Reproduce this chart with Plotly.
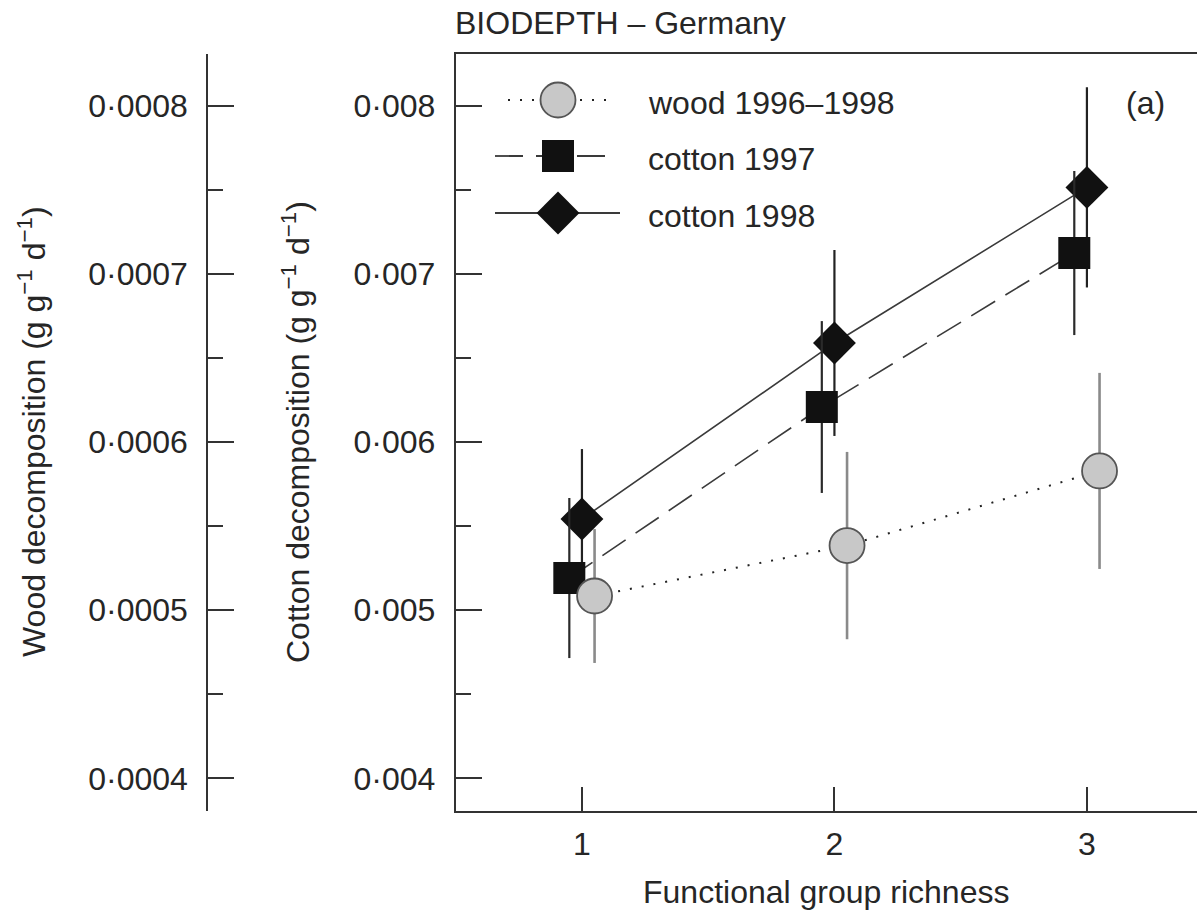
import plotly.graph_objects as go

# ---------------- data ----------------
richness = [1, 2, 3]
x_cotton97 = [0.95, 1.95, 2.95]
x_cotton98 = [1.0, 2.0, 3.0]
x_wood = [1.05, 2.05, 3.05]

cotton1998 = [0.005542, 0.006589, 0.007514]
cotton1998_err = [0.000416, 0.000553, 0.000595]

cotton1997 = [0.005191, 0.006208, 0.007124]
cotton1997_err = [0.000476, 0.000511, 0.000488]

wood = [0.0005084, 0.0005384, 0.0005828]
wood_err = [0.0000398, 0.0000557, 0.0000583]

cotton_ticks = [0.004, 0.005, 0.006, 0.007, 0.008]
cotton_ticktext = ["0·004", "0·005", "0·006", "0·007", "0·008"]
wood_ticks = [0.0004, 0.0005, 0.0006, 0.0007, 0.0008]
wood_ticktext = ["0·0004", "0·0005", "0·0006", "0·0007", "0·0008"]
x_ticks = [1, 2, 3]
x_ticktext = ["1", "2", "3"]

series_names = ["wood 1996–1998", "cotton 1997", "cotton 1998"]

# ---------------- layout geometry ----------------
W, H = 1197, 913
FONT = "Liberation Sans, Arial, Helvetica, sans-serif"
TXT = "#262626"
AX = "#333333"
FS = 32

def px(xp):
    return xp / W

def py(yp):
    return 1 - yp / H

x_dom = [px(455.7), 1.0]
y_dom = [py(811), py(54.3)]
cot_range = [0.0038055, 0.0083057]
wood_range = [v / 10 for v in cot_range]
x_range = [0.5, 3.436]

fig = go.Figure()

# cotton 1998 (solid, diamonds)
fig.add_trace(go.Scatter(
    x=x_cotton98, y=cotton1998, mode="lines+markers", name=series_names[2],
    line=dict(color="#3a3a3a", width=1.6),
    marker=dict(symbol="diamond", size=33, color="#111111", line=dict(width=0)),
    error_y=dict(type="data", array=cotton1998_err, visible=True, color="#222222",
                 thickness=2.2, width=0),
    xaxis="x", yaxis="y", showlegend=False, cliponaxis=False))

# cotton 1997 (dashed, squares)
fig.add_trace(go.Scatter(
    x=x_cotton97, y=cotton1997, mode="lines+markers", name=series_names[1],
    line=dict(color="#3a3a3a", width=1.6, dash="28px,12px"),
    marker=dict(symbol="square", size=32, color="#111111", line=dict(width=0)),
    error_y=dict(type="data", array=cotton1997_err, visible=True, color="#2a2a2a",
                 thickness=2.2, width=0),
    xaxis="x", yaxis="y", showlegend=False, cliponaxis=False))

# wood (dotted, grey circles) on the wood axis
fig.add_trace(go.Scatter(
    x=x_wood, y=wood, mode="lines+markers", name=series_names[0],
    line=dict(color="#222222", width=2, dash="2px,10px"),
    marker=dict(symbol="circle", size=35, color="#c8c8c8",
                line=dict(width=1.8, color="#555555")),
    error_y=dict(type="data", array=wood_err, visible=True, color="#8a8a8a",
                 thickness=2.6, width=0),
    xaxis="x", yaxis="y2", showlegend=False, cliponaxis=False))

# ---------------- hand-drawn legend on a hidden pixel-space axis ----------------
leg_rows = [100, 156, 213]
leg_line_x = [(508, 610), (495, 608), (495, 620)]
leg_marker_x = 558
leg_styles = [
    dict(line=dict(color="#222222", width=2, dash="2px,10px"),
         marker=dict(symbol="circle", size=35, color="#c8c8c8", line=dict(width=1.8, color="#555555"))),
    dict(line=dict(color="#3a3a3a", width=1.8, dash="28px,13px"),
         marker=dict(symbol="square", size=32, color="#111111", line=dict(width=0))),
    dict(line=dict(color="#3a3a3a", width=1.8),
         marker=dict(symbol="diamond", size=33, color="#111111", line=dict(width=0))),
]
for row, (x0, x1), st, nm in zip(leg_rows, leg_line_x, leg_styles, series_names):
    fig.add_trace(go.Scatter(x=[x0, x1], y=[row, row], mode="lines", line=st["line"],
                             xaxis="x3", yaxis="y3", showlegend=False, hoverinfo="skip"))
    fig.add_trace(go.Scatter(x=[leg_marker_x], y=[row], mode="markers", marker=st["marker"],
                             xaxis="x3", yaxis="y3", showlegend=False, hoverinfo="skip"))
    fig.add_annotation(text=nm, x=px(646), y=py(row + 3), xref="paper", yref="paper",
                       xanchor="left", yanchor="middle", showarrow=False,
                       font=dict(family=FONT, size=FS, color=TXT))

annotations_extra = [
    dict(text="BIODEPTH – Germany", x=px(453), y=py(23), xanchor="left", textangle=0),
    dict(text="(a)", x=px(1145), y=py(103), xanchor="center", textangle=0),
    dict(text="Functional group richness", x=px(826), y=py(892), xanchor="center", textangle=0),
    dict(text="Wood decomposition (g g<sup>−1</sup> d<sup>−1</sup>)", x=px(32), y=py(432),
         xanchor="center", textangle=-90),
    dict(text="Cotton decomposition (g g<sup>−1</sup> d<sup>−1</sup>)", x=px(296), y=py(432),
         xanchor="center", textangle=-90),
]
for a in annotations_extra:
    fig.add_annotation(text=a["text"], x=a["x"], y=a["y"], xref="paper", yref="paper",
                       xanchor=a["xanchor"], yanchor="middle", textangle=a["textangle"],
                       showarrow=False, font=dict(family=FONT, size=FS, color=TXT))

axis_font = dict(family=FONT, size=FS, color=TXT)

fig.update_layout(
    width=W, height=H,
    margin=dict(l=0, r=0, t=0, b=0, autoexpand=False),
    paper_bgcolor="white", plot_bgcolor="rgba(0,0,0,0)",
    showlegend=False,
    xaxis=dict(domain=x_dom, range=x_range, anchor="y",
               tickmode="array", tickvals=x_ticks, ticktext=x_ticktext,
               ticks="inside", ticklen=24, tickwidth=2, tickcolor=AX,
               showline=True, linewidth=2, linecolor=AX, mirror=True,
               showgrid=False, zeroline=False, tickfont=axis_font,
               ticklabelstandoff=4),
    yaxis=dict(domain=y_dom, range=cot_range, anchor="x",
               tickmode="array", tickvals=cotton_ticks, ticktext=cotton_ticktext,
               ticks="inside", ticklen=26, tickwidth=2, tickcolor=AX,
               minor=dict(dtick=0.0005, tick0=0, ticks="inside", ticklen=15,
                          tickwidth=2, tickcolor=AX, showgrid=False),
               showline=True, linewidth=2, linecolor=AX, mirror=False,
               showgrid=False, zeroline=False, tickfont=axis_font,
               ticklabelstandoff=12),
    yaxis2=dict(overlaying="y", anchor="free", position=px(207.3), side="left",
                range=wood_range,
                tickmode="array", tickvals=wood_ticks, ticktext=wood_ticktext,
                ticks="inside", ticklen=26, tickwidth=2, tickcolor=AX,
                minor=dict(dtick=0.00005, tick0=0, ticks="inside", ticklen=15,
                           tickwidth=2, tickcolor=AX, showgrid=False),
                showline=True, linewidth=2, linecolor=AX,
                showgrid=False, zeroline=False, tickfont=axis_font,
                ticklabelstandoff=12),
    xaxis3=dict(domain=[0, 1], range=[0, W], anchor="y3", visible=False, fixedrange=True),
    yaxis3=dict(domain=[0, 1], range=[H, 0], anchor="x3", visible=False, fixedrange=True),
)

fig.write_html("out.html")
